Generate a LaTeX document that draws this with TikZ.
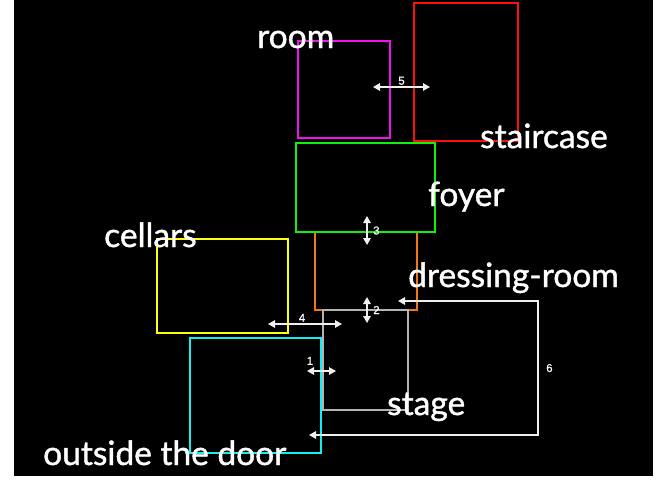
\documentclass[tikz,border=0pt]{standalone}
\usepackage{fontspec}
\setmainfont{Lato}
\newfontfamily\placefont[FakeBold=1.2]{Lato}
\newfontfamily\numfont[FakeBold=0.6]{Liberation Sans}
\usepackage{tikz}
\usetikzlibrary{arrows.meta, calc}

\definecolor{roomcol}{HTML}{F010F0}
\definecolor{stairscol}{HTML}{FF0D0D}
\definecolor{foyercol}{HTML}{10F010}
\definecolor{dresscol}{HTML}{F07818}
\definecolor{stagecol}{HTML}{B4B4B4}
\definecolor{cellarcol}{HTML}{FFFF10}
\definecolor{outcol}{HTML}{10F0F0}
\definecolor{linkcol}{HTML}{F0F0F0}

\begin{document}
\begin{tikzpicture}[x=1pt,y=-1pt,
  box/.style={draw=#1, line width=1.8pt, inner sep=0pt, outer sep=0pt},
  place/.style={text=white, font=\placefont\fontsize{33.5}{36}\selectfont, inner sep=0pt, anchor=base west},
  link/.style={draw=linkcol, line width=1.4pt, {Triangle[length=7pt,width=7.5pt]}-{Triangle[length=7pt,width=7.5pt]}},
  num/.style={text=white, font=\numfont\fontsize{11.5}{13}\selectfont, inner sep=1.5pt}]
% page and backdrop
\useasboundingbox (0,0) rectangle (663,479);
\fill[white] (0,0) rectangle (663,479);
\fill[black] (14,0) rectangle (653,476);

% the rooms
\node[box=stairscol, minimum width=104pt, minimum height=138pt] (stairs) at (466,72) {};
\node[box=roomcol, minimum width=92pt, minimum height=97pt] (room) at (344,89.5) {};
\node[box=dresscol, minimum width=102pt, minimum height=78pt] (dress) at (366,271) {};
\node[box=foyercol, minimum width=139pt, minimum height=89pt] (foyer) at (365.5,187.5) {};
\node[box=stagecol, minimum width=85pt, minimum height=100pt] (stage) at (365.5,360) {};
\node[box=cellarcol, minimum width=131pt, minimum height=94pt] (cellars) at (222.5,286) {};
\node[box=outcol, minimum width=131pt, minimum height=115pt] (outside) at (255.5,395.5) {};

% the ways between them
\draw[link] ($(room.east)+(-17,-2.5)$) -- node[num, above] {5} ($(stairs.west)+(16,15)$);
\draw[link] ($(foyer.south)+(1.5,-16)$) -- node[num, right, xshift=4pt] {3} ($(dress.north)+(1,13)$);
\draw[link] ($(dress.south)+(1,-13)$) -- node[num, right, xshift=4pt] {2} ($(stage.north)+(1.5,13)$);
\draw[link] ($(cellars.east)+(-20,38)$) -- node[num, above, xshift=-3pt] {4} ($(stage.west)+(19,-36)$);
\draw[link] ($(outside.east)+(-14,-24.5)$) -- node[num, above, xshift=-11.5pt, yshift=4pt] {1} ($(stage.west)+(13,11)$);
\coordinate (sixtop) at (538,301);
\coordinate (sixbot) at (538,435);
\draw[link] ($(dress.east)+(-19,30)$) -- (sixtop) -- node[num, right, xshift=6pt] {6} (sixbot) -- ($(outside.east)+(-12,39.5)$);

% names
\node[place] (roomlbl) at (257,48) {room};
\node[place] (stairslbl) at (480,148) {staircase};
\node[place] (foyerlbl) at (428,206) {foyer};
\node[place] (cellarslbl) at (104,247) {cellars};
\node[place] (dresslbl) at (408,287) {dressing-room};
\node[place] (stagelbl) at (387,415) {stage};
\node[place] (outsidelbl) at (43,465) {outside the door};
\end{tikzpicture}
\end{document}
